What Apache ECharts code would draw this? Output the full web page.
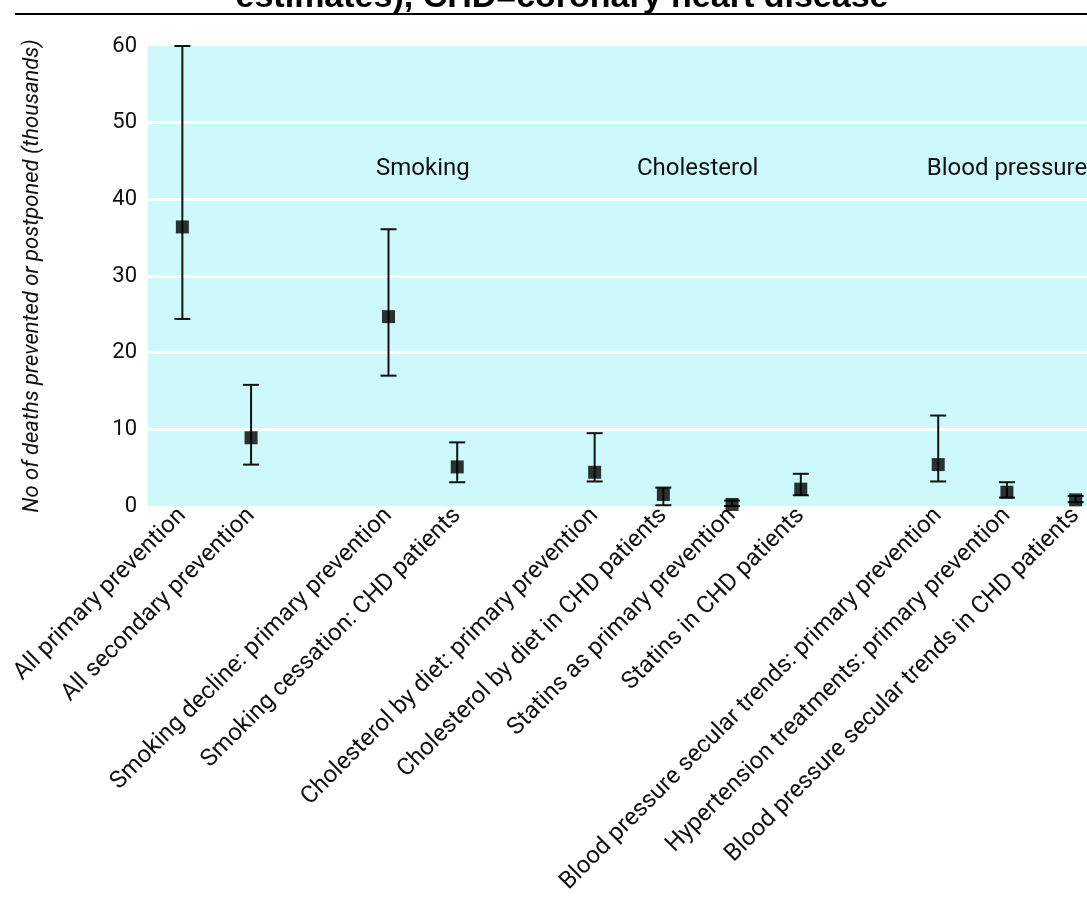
<!DOCTYPE html>
<html><head><meta charset="utf-8">
<script src="https://cdn.jsdelivr.net/npm/echarts@6/dist/echarts.min.js"></script>
<style>html,body{margin:0;padding:0;background:#fff}#c{width:1087px;height:898px}</style>
</head><body><div id="c"></div>
<script>
const titleText = 'estimates), CHD=coronary heart disease';
const yAxisTitle = 'No of deaths prevented or postponed (thousands)';
const categories = [
  'All primary prevention',
  'All secondary prevention',
  '',
  'Smoking decline: primary prevention',
  'Smoking cessation: CHD patients',
  '',
  'Cholesterol by diet: primary prevention',
  'Cholesterol by diet in CHD patients',
  'Statins as primary prevention',
  'Statins in CHD patients',
  '',
  'Blood pressure secular trends: primary prevention',
  'Hypertension treatments: primary prevention',
  'Blood pressure secular trends in CHD patients'
];
const estimates   = [36.4, 8.9, null, 24.7, 5.1, null, 4.4, 1.5, 0.2, 2.2, null, 5.4, 1.8, 0.8];
const lowerLimits = [24.4, 5.4, null, 17.0, 3.1, null, 3.2, 0.1, 0.0, 1.4, null, 3.2, 1.1, 0.5];
const upperLimits = [60.0, 15.8, null, 36.1, 8.3, null, 9.5, 2.4, 0.7, 4.2, null, 11.8, 3.1, 1.3];
const yTicks = [0, 10, 20, 30, 40, 50, 60];
const groupLabels = ['Smoking', 'Cholesterol', 'Blood pressure'];
const groupSpans = [[3, 4], [7, 8], [12, 12]];
const groupLabelValue = 44;

const FONT = 'Roboto, "Liberation Sans", sans-serif';
const chart = echarts.init(document.getElementById('c'), null, {renderer: 'canvas'});

const errData = [];
const ptData = [];
categories.forEach((c, i) => {
  if (estimates[i] != null) {
    errData.push([i, lowerLimits[i], upperLimits[i]]);
    ptData.push([i, estimates[i]]);
  }
});
const grpData = groupSpans.map((s, i) => [s[0], s[1], groupLabelValue]);

chart.setOption({
  animation: false,
  backgroundColor: '#ffffff',
  grid: {
    left: 148, right: -23, top: 46, bottom: 392,
    show: true, backgroundColor: '#cdf9fb', borderWidth: 0,
    containLabel: false, outerBoundsMode: 'none'
  },
  graphic: [
    {type: 'line', shape: {x1: 15, y1: 14, x2: 1087, y2: 14}, style: {stroke: '#000', lineWidth: 2}, z: 100},
    {type: 'text', x: 562, y: -2, style: {text: titleText, font: 'bold 34px "Liberation Sans", Arial, sans-serif', textAlign: 'center', textVerticalAlign: 'middle', fill: '#000'}, z: 100}
  ],
  xAxis: {
    type: 'category',
    data: categories,
    boundaryGap: true,
    axisLine: {show: false},
    axisTick: {show: false},
    splitLine: {show: false},
    axisLabel: {interval: 0, rotate: 45, margin: 6, fontSize: 24, fontFamily: FONT, color: '#111'}
  },
  yAxis: {
    type: 'value',
    min: yTicks[0], max: yTicks[yTicks.length - 1], interval: yTicks[1] - yTicks[0],
    axisLine: {show: false},
    axisTick: {show: false},
    axisLabel: {fontSize: 22, fontFamily: FONT, color: '#111', margin: 11},
    splitLine: {show: true, showMinLine: false, showMaxLine: false, lineStyle: {color: '#ffffff', width: 3}},
    name: yAxisTitle,
    nameLocation: 'middle',
    nameGap: 105,
    nameTextStyle: {fontSize: 22, fontStyle: 'italic', fontFamily: FONT, color: '#111'}
  },
  series: [
    {
      type: 'custom',
      data: errData,
      z: 3,
      renderItem: function (params, api) {
        const x = api.value(0);
        const lo = api.coord([x, api.value(1)]);
        const hi = api.coord([x, api.value(2)]);
        const hw = 8;
        const st = {stroke: '#111', lineWidth: 2};
        return {type: 'group', children: [
          {type: 'line', shape: {x1: lo[0], y1: lo[1], x2: hi[0], y2: hi[1]}, style: st},
          {type: 'line', shape: {x1: lo[0] - hw, y1: lo[1], x2: lo[0] + hw, y2: lo[1]}, style: st},
          {type: 'line', shape: {x1: hi[0] - hw, y1: hi[1], x2: hi[0] + hw, y2: hi[1]}, style: st}
        ]};
      }
    },
    {
      type: 'scatter',
      data: ptData,
      symbol: 'rect',
      symbolSize: 13,
      itemStyle: {color: '#000'},
      z: 4
    },
    {
      type: 'custom',
      data: grpData,
      z: 2,
      renderItem: function (params, api) {
        const a = api.coord([api.value(0), api.value(2)]);
        const b = api.coord([api.value(1), api.value(2)]);
        return {type: 'text', x: (a[0] + b[0]) / 2, y: a[1], style: {
          text: groupLabels[params.dataIndex], font: '24px ' + FONT, fill: '#111',
          textAlign: 'center', textVerticalAlign: 'middle'
        }};
      }
    }
  ]
});
</script>
</body></html>
